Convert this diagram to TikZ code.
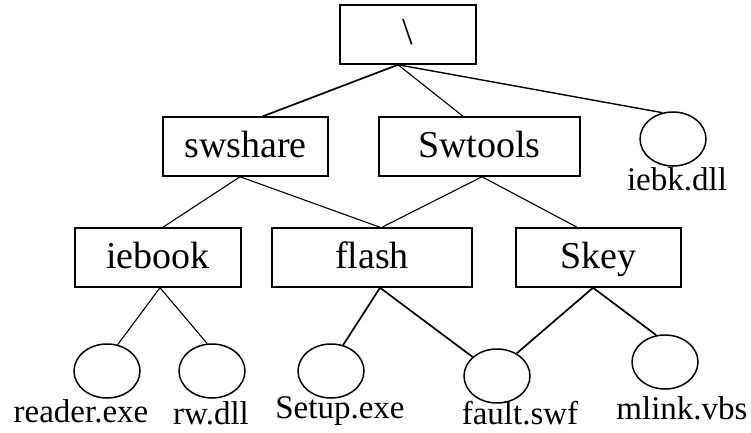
\documentclass[tikz,border=0pt]{standalone}
\usepackage{fontspec}
\setmainfont{Liberation Serif}
\usetikzlibrary{shapes.geometric}
\begin{document}
\begin{tikzpicture}[x=1pt,y=1pt,
    folder/.style={draw,fill=white,line width=1.5pt,minimum width=#1,minimum height=59pt,
      inner sep=0pt,text height=28pt,text depth=7pt,font=\fontsize{38}{40}\selectfont},
    file/.style={draw,ellipse,line width=1.5pt,minimum width=66pt,minimum height=54pt,inner sep=0pt},
    fname/.style={anchor=base,inner sep=0pt,font=\fontsize{33}{35}\selectfont},
    link/.style={line width=1.1pt},
    boldlink/.style={line width=1.7pt}]
  \useasboundingbox (0,0) rectangle (751,432);
  % directories
  \node[folder=136pt] (root) at (408,397.5) {\textbackslash};
  \node[folder=165pt] (swshare) at (245.5,285.5) {swshare};
  \node[folder=201pt] (swtools) at (479.5,285.5) {Swtools};
  \node[folder=166pt] (iebook) at (158,174.5) {iebook};
  \node[folder=200pt] (flash) at (372,174.5) {flash};
  \node[folder=165pt] (skey) at (598.5,174.5) {Skey};
  % files
  \node[file] (iebk) at (673,293) {};
  \node[file] (reader) at (107,61) {};
  \node[file] (rw) at (212,61) {};
  \node[file] (setup) at (331,61) {};
  \node[file] (fault) at (497,56) {};
  \node[file] (mlink) at (665,70) {};
  \node[fname] (iebk-name) at (677,242) {iebk.dll};
  \node[fname] (reader-name) at (81,10) {reader.exe};
  \node[fname] (rw-name) at (211,8) {rw.dll};
  \node[fname] (setup-name) at (340,14) {Setup.exe};
  \node[fname] (fault-name) at (520,8) {fault.swf};
  \node[fname] (mlink-name) at (682,13) {mlink.vbs};
  % links
  \begin{scope}[link]
    \draw[boldlink] ([xshift=-10pt]root.south) -- ([xshift=17.5pt]swshare.north);
    \draw ([xshift=-10pt]root.south) -- ([xshift=-16.5pt]swtools.north);
    \draw[line width=1.4pt] ([xshift=-10pt]root.south) -- (iebk.112);
    \draw ([xshift=-5.5pt]swshare.south) -- ([xshift=5pt]iebook.north);
    \draw ([xshift=-5.5pt]swshare.south) -- ([xshift=8pt]flash.north);
    \draw ([xshift=2.5pt]swtools.south) -- ([xshift=10pt]flash.north);
    \draw ([xshift=2.5pt]swtools.south) -- ([xshift=-21.5pt]skey.north);
    \draw ([xshift=2pt]iebook.south) -- (reader.68);
    \draw ([xshift=2pt]iebook.south) -- (rw.100);
    \draw[boldlink] ([xshift=8pt]flash.south) -- (setup.65);
    \draw[boldlink] ([xshift=8pt]flash.south) -- (fault.142);
    \draw[boldlink] ([xshift=-5.5pt]skey.south) -- (fault.49);
    \draw[boldlink] ([xshift=-5.5pt]skey.south) -- (mlink.108);
  \end{scope}
\end{tikzpicture}
\end{document}
